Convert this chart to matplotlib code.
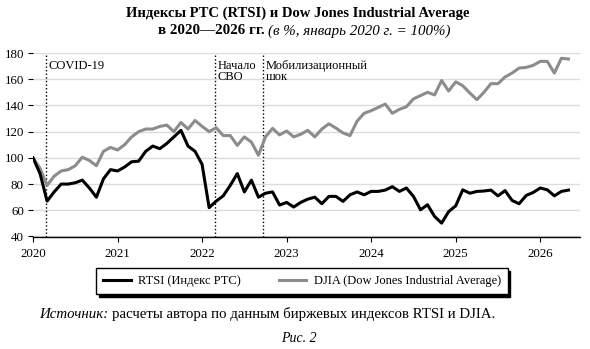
import matplotlib
matplotlib.use("Agg")
import matplotlib.pyplot as plt

plt.rcParams["font.family"] = ["Liberation Serif", "DejaVu Serif"]

# monthly data, Jan 2020 .. May 2026 (Jan 2020 = 100)
rtsi = [100, 88, 67, 74, 80, 80, 81, 83, 77, 70, 84, 91,
        90, 93, 97, 97.5, 105, 109, 107, 111, 116, 121, 109, 105,
        95, 62, 67, 71, 79, 88, 74, 83, 70, 73, 74, 64,
        66, 62.5, 66, 68.5, 70, 65, 70.6, 70.6, 66.8, 71.8, 74, 71.8,
        74.4, 74.4, 75.4, 78, 74.4, 77, 70.6, 60.4, 64.2, 55.3, 50.2, 59,
        63.4, 75.6, 73, 74.4, 74.7, 75.4, 71, 75, 67.5, 65, 71.3, 73.6,
        77, 75.6, 71, 74.4, 75.4]
djia = [100, 92, 79, 86, 90, 91, 94, 100.5, 98, 94, 105, 108,
        106, 110, 116, 120, 122, 122, 124, 125, 120, 127, 122, 128.5,
        124, 120, 123, 117, 117, 109.5, 116, 112, 102, 116, 122.5, 117.5,
        120.5, 116, 118, 121, 116, 122, 126, 122.7, 119, 117, 128, 134,
        136, 138.5, 141, 134, 137, 139, 145, 147.5, 150, 148, 159, 151,
        158, 155, 149.5, 144.4, 150, 156.6, 156.6, 161.7, 164.7, 168.5, 169, 170.6,
        173.6, 173.6, 164.7, 176, 175.4]
dates = [2020 + i / 12 for i in range(len(rtsi))]

events = [2020.15, 2022.15, 2022.72]
event_labels = ["COVID-19", "Начало\nСВО", "Мобилизационный\nшок"]
years = [2020, 2021, 2022, 2023, 2024, 2025, 2026]

fig = plt.figure(figsize=(5.9, 3.49), dpi=100)
ax = fig.add_axes([33 / 590, 1 - 236.5 / 349, 547 / 590, 183.5 / 349])

ax.plot(dates, djia, color="#8c8c8c", lw=2.2, label="DJIA (Dow Jones Industrial Average)", zorder=3)
ax.plot(dates, rtsi, color="black", lw=2.2, label="RTSI (Индекс РТС)", zorder=4)

for x, lab in zip(events, event_labels):
    ax.axvline(x, color="black", ls=(0, (1.0, 1.6)), lw=1.0, zorder=2)
    ax.text(x + 0.035, 175, lab, ha="left", va="top", fontsize=9, linespacing=0.95)

ax.set_xlim(2020, 2026.47)
ax.set_ylim(40, 180)
ax.set_yticks(range(40, 181, 20))
ax.set_xticks(years)
ax.set_xticklabels([str(y) for y in years])
ax.tick_params(axis="both", labelsize=9.3, length=3.5, width=0.8, color="black", pad=3)
ax.tick_params(axis="x", pad=5)
ax.grid(axis="y", color="#dcdcdc", lw=1.0, zorder=0)
for s in ["top", "right", "left"]:
    ax.spines[s].set_visible(False)
ax.spines["bottom"].set_linewidth(1.0)

h, l = ax.get_legend_handles_labels()
leg = fig.legend(h[::-1], l[::-1], loc="center", bbox_to_anchor=(302 / 590, 1 - 281 / 349),
                 ncol=2, fontsize=9.0, frameon=True, fancybox=False, shadow={"color": "black", "alpha": 1},
                 edgecolor="black", handlelength=2.2, handletextpad=0.6, columnspacing=3.0, borderpad=0.55)
leg.get_frame().set_linewidth(1.0)

# title with mixed styles
fig.text(0.505, 1 - 13 / 349, "Индексы РТС (RTSI) и Dow Jones Industrial Average",
         ha="center", va="center", fontsize=10.5, fontweight="bold")
r = fig.canvas.get_renderer()
t1 = fig.text(0, 1 - 31 / 349, "в 2020—2026 гг. ", ha="left", va="center", fontsize=10.8, fontweight="bold")
t2 = fig.text(0, 1 - 31 / 349, "(в %, январь 2020 г. = 100%)", ha="left", va="center",
              fontsize=10.8, style="italic")
w1 = t1.get_window_extent(r).width / fig.bbox.width
w2 = t2.get_window_extent(r).width / fig.bbox.width
x0 = 0.516 - (w1 + w2) / 2
t1.set_x(x0)
t2.set_x(x0 + w1)

# source line
s1 = fig.text(39 / 590, 1 - 314 / 349, "Источник: ", ha="left", va="center", fontsize=10.7, style="italic")
ws = s1.get_window_extent(r).width / fig.bbox.width
fig.text(39 / 590 + ws, 1 - 314 / 349, "расчеты автора по данным биржевых индексов RTSI и DJIA.",
         ha="left", va="center", fontsize=10.7)
fig.text(0.507, 1 - 339 / 349, "Рис. 2", ha="center", va="center", fontsize=10, style="italic")

fig.savefig("out.png", dpi=100)
